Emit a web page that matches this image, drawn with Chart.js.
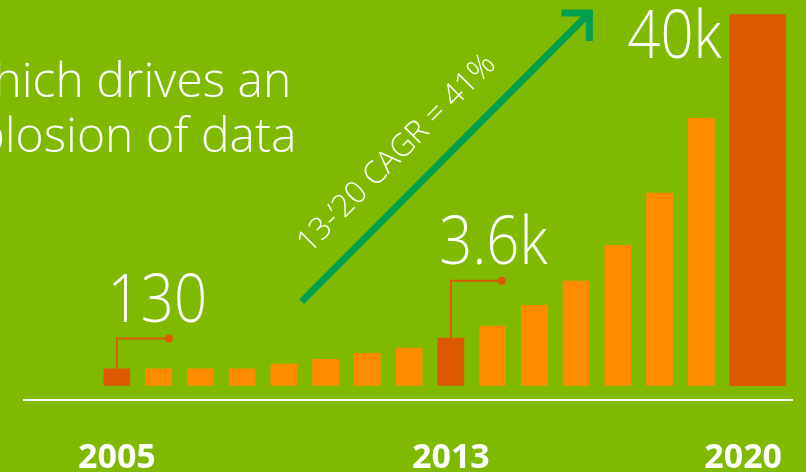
<!DOCTYPE html>
<html>
<head>
<meta charset="utf-8">
<script src="https://cdn.jsdelivr.net/npm/chart.js@4.4.1/dist/chart.umd.min.js"></script>
<style>
  html, body { margin: 0; padding: 0; background: #7FBA00; overflow: hidden; }
  canvas { display: block; }
</style>
</head>
<body>
<canvas id="chart" width="806" height="472"></canvas>
<script>
// Digital universe size per year (exabytes)
const years = ['2005','2006','2007','2008','2009','2010','2011','2012','2013','2014','2015','2016','2017','2018','2019','2020'];
const volumes = [130, 130, 130, 130, 680, 1210, 1880, 2480, 3600, 4960, 7290, 10020, 14050, 19940, 28350, 40000];
const tickYears = ['2005', '2013', '2020'];
const calloutYears = ['2005', '2013', '2020'];
const titleLines = ['which drives an', 'explosion of data'];
const growthLabel = '13-\u201920 CAGR = 41%';

// Styling
const GREEN = '#7FBA00';
const ORANGE = '#FF8C00';
const DARK_ORANGE = '#DC5900';
const ARROW_GREEN = '#00A04E';
const WHITE = '#FFFFFF';

// Value axis: bars rise from BAR_BASE, the axis line sits a little lower
const BAR_BASE = -1800;
const Y_MIN = -3410;
const Y_MAX = 41630;

const lastIdx = years.length - 1;

function fmt(v) {
  return v >= 1000 ? (v / 1000) + 'k' : String(v);
}

// Callout geometry (pixels relative to the bar)
const calloutLayout = {
  '2005': { rise: 30, arm: 52, inkDx: -4, lift: 17 },
  '2013': { rise: 57, arm: 51, inkDx: -9, lift: 16.5 },
  '2020': { gap: 8, drop: 44 }
};

const LABEL_FONT = '300 66px "Open Sans"';
const LABEL_SQUEEZE = 0.88;

function barFor(chart, idx) {
  if (idx === lastIdx) return chart.getDatasetMeta(1).data[idx];
  return chart.getDatasetMeta(0).data[idx];
}

const decor = {
  id: 'decor',
  beforeDraw(chart) {
    const ctx = chart.ctx;
    ctx.save();
    ctx.fillStyle = GREEN;
    ctx.fillRect(0, 0, chart.width, chart.height);
    ctx.restore();
  },
  afterDatasetsUpdate(chart) {
    // the final bar is wider and grows to the right from the regular left edge
    const reg = chart.getDatasetMeta(0).data[0];
    const wide = chart.getDatasetMeta(1).data[lastIdx];
    if (reg && wide) wide.x += (wide.width - reg.width) / 2;
  },
  afterDatasetsDraw(chart) {
    const ctx = chart.ctx;
    const area = chart.chartArea;
    ctx.save();

    // axis rule
    ctx.strokeStyle = WHITE;
    ctx.lineWidth = 2;
    ctx.beginPath();
    ctx.moveTo(23, area.bottom);
    ctx.lineTo(793, area.bottom);
    ctx.stroke();

    // title
    ctx.fillStyle = WHITE;
    ctx.font = '300 48px "Open Sans"';
    ctx.textBaseline = 'alphabetic';
    ctx.textAlign = 'right';
    const titleRight = [288, 293];
    const titleBase = [97, 152];
    titleLines.forEach((t, i) => {
      const m = ctx.measureText(t);
      ctx.fillText(t, titleRight[i] - m.actualBoundingBoxRight, titleBase[i]);
    });

    // callouts
    calloutYears.forEach(y => {
      const idx = years.indexOf(y);
      const el = barFor(chart, idx);
      const lay = calloutLayout[y];
      const text = fmt(volumes[idx]);
      ctx.font = LABEL_FONT;
      ctx.textAlign = 'left';
      ctx.textBaseline = 'alphabetic';
      const m = ctx.measureText(text);
      if (lay.rise !== undefined) {
        const ly = el.y - lay.rise;
        ctx.strokeStyle = DARK_ORANGE;
        ctx.lineWidth = 2;
        ctx.beginPath();
        ctx.moveTo(el.x, el.y);
        ctx.lineTo(el.x, ly);
        ctx.lineTo(el.x + lay.arm, ly);
        ctx.stroke();
        ctx.fillStyle = DARK_ORANGE;
        ctx.beginPath();
        ctx.arc(el.x + lay.arm, ly, 4, 0, Math.PI * 2);
        ctx.fill();
        const inkLeft = el.x + lay.inkDx;
        ctx.save();
        ctx.translate(inkLeft, ly - lay.lift);
        ctx.scale(LABEL_SQUEEZE, 1);
        ctx.fillStyle = WHITE;
        ctx.fillText(text, m.actualBoundingBoxLeft, 0);
        ctx.restore();
      } else {
        const inkRight = el.x - el.width / 2 - lay.gap;
        ctx.save();
        ctx.translate(inkRight, el.y + lay.drop);
        ctx.scale(LABEL_SQUEEZE, 1);
        ctx.fillStyle = WHITE;
        ctx.fillText(text, -m.actualBoundingBoxRight, 0);
        ctx.restore();
      }
    });

    // growth arrow
    const w = area.right - area.left, h = area.bottom - area.top;
    const tail = { x: area.left + 0.3078 * w, y: area.top + 0.754 * h };
    const tip = { x: area.left + 0.7386 * w, y: area.top + 0.0325 * h };
    const dx = tip.x - tail.x, dy = tip.y - tail.y;
    const len = Math.hypot(dx, dy);
    const ux = dx / len, uy = dy / len;
    ctx.strokeStyle = ARROW_GREEN;
    ctx.lineWidth = 7;
    ctx.lineCap = 'butt';
    ctx.lineJoin = 'miter';
    ctx.beginPath();
    ctx.moveTo(tail.x, tail.y);
    ctx.lineTo(tip.x, tip.y);
    ctx.stroke();
    const armLen = 28;
    const c = Math.cos(Math.PI / 4), s = Math.sin(Math.PI / 4);
    const bx = -ux, by = -uy;
    const a1 = { x: tip.x + armLen * (bx * c - by * s), y: tip.y + armLen * (bx * s + by * c) };
    const a2 = { x: tip.x + armLen * (bx * c + by * s), y: tip.y + armLen * (-bx * s + by * c) };
    ctx.beginPath();
    ctx.moveTo(a1.x, a1.y);
    ctx.lineTo(tip.x, tip.y);
    ctx.lineTo(a2.x, a2.y);
    ctx.stroke();

    // growth label along the arrow
    const along = 172, offset = 37;
    const nx = uy, ny = -ux;
    const cx = tail.x + ux * along + nx * offset;
    const cy = tail.y + uy * along + ny * offset;
    ctx.save();
    ctx.translate(cx, cy);
    ctx.rotate(Math.atan2(dy, dx));
    ctx.font = '300 31px "Open Sans"';
    ctx.fillStyle = WHITE;
    ctx.textAlign = 'center';
    ctx.textBaseline = 'middle';
    ctx.fillText(growthLabel, 0, 0);
    ctx.restore();

    ctx.restore();
  }
};

new Chart(document.getElementById('chart'), {
  type: 'bar',
  data: {
    labels: years,
    datasets: [
      {
        data: volumes.map((v, i) => (i === lastIdx ? null : v)),
        backgroundColor: years.map(y => (calloutYears.includes(y) ? DARK_ORANGE : ORANGE)),
        base: BAR_BASE,
        categoryPercentage: 1,
        barPercentage: 0.64,
        grouped: false,
        clip: false
      },
      {
        data: volumes.map((v, i) => (i === lastIdx ? v : null)),
        backgroundColor: DARK_ORANGE,
        base: BAR_BASE,
        barThickness: 56,
        grouped: false,
        clip: false
      }
    ]
  },
  options: {
    responsive: false,
    devicePixelRatio: 1,
    animation: false,
    events: [],
    layout: { padding: { left: 96, right: 42, top: 0, bottom: 0 } },
    plugins: { legend: { display: false }, tooltip: { enabled: false } },
    scales: {
      x: {
        offset: true,
        grid: { display: false },
        border: { display: false },
        ticks: {
          autoSkip: false,
          maxRotation: 0,
          minRotation: 0,
          padding: 30,
          color: WHITE,
          font: { family: '"Open Sans"', size: 34, weight: 'bold', lineHeight: 1.2 },
          callback: (val, idx) => (tickYears.includes(years[idx]) ? years[idx] : '')
        },
        afterFit: scale => {
          scale.height = 72;
          scale.paddingLeft = 0;
          scale.paddingRight = 0;
        }
      },
      y: {
        display: false,
        min: Y_MIN,
        max: Y_MAX
      }
    }
  },
  plugins: [decor]
});
</script>
</body>
</html>
